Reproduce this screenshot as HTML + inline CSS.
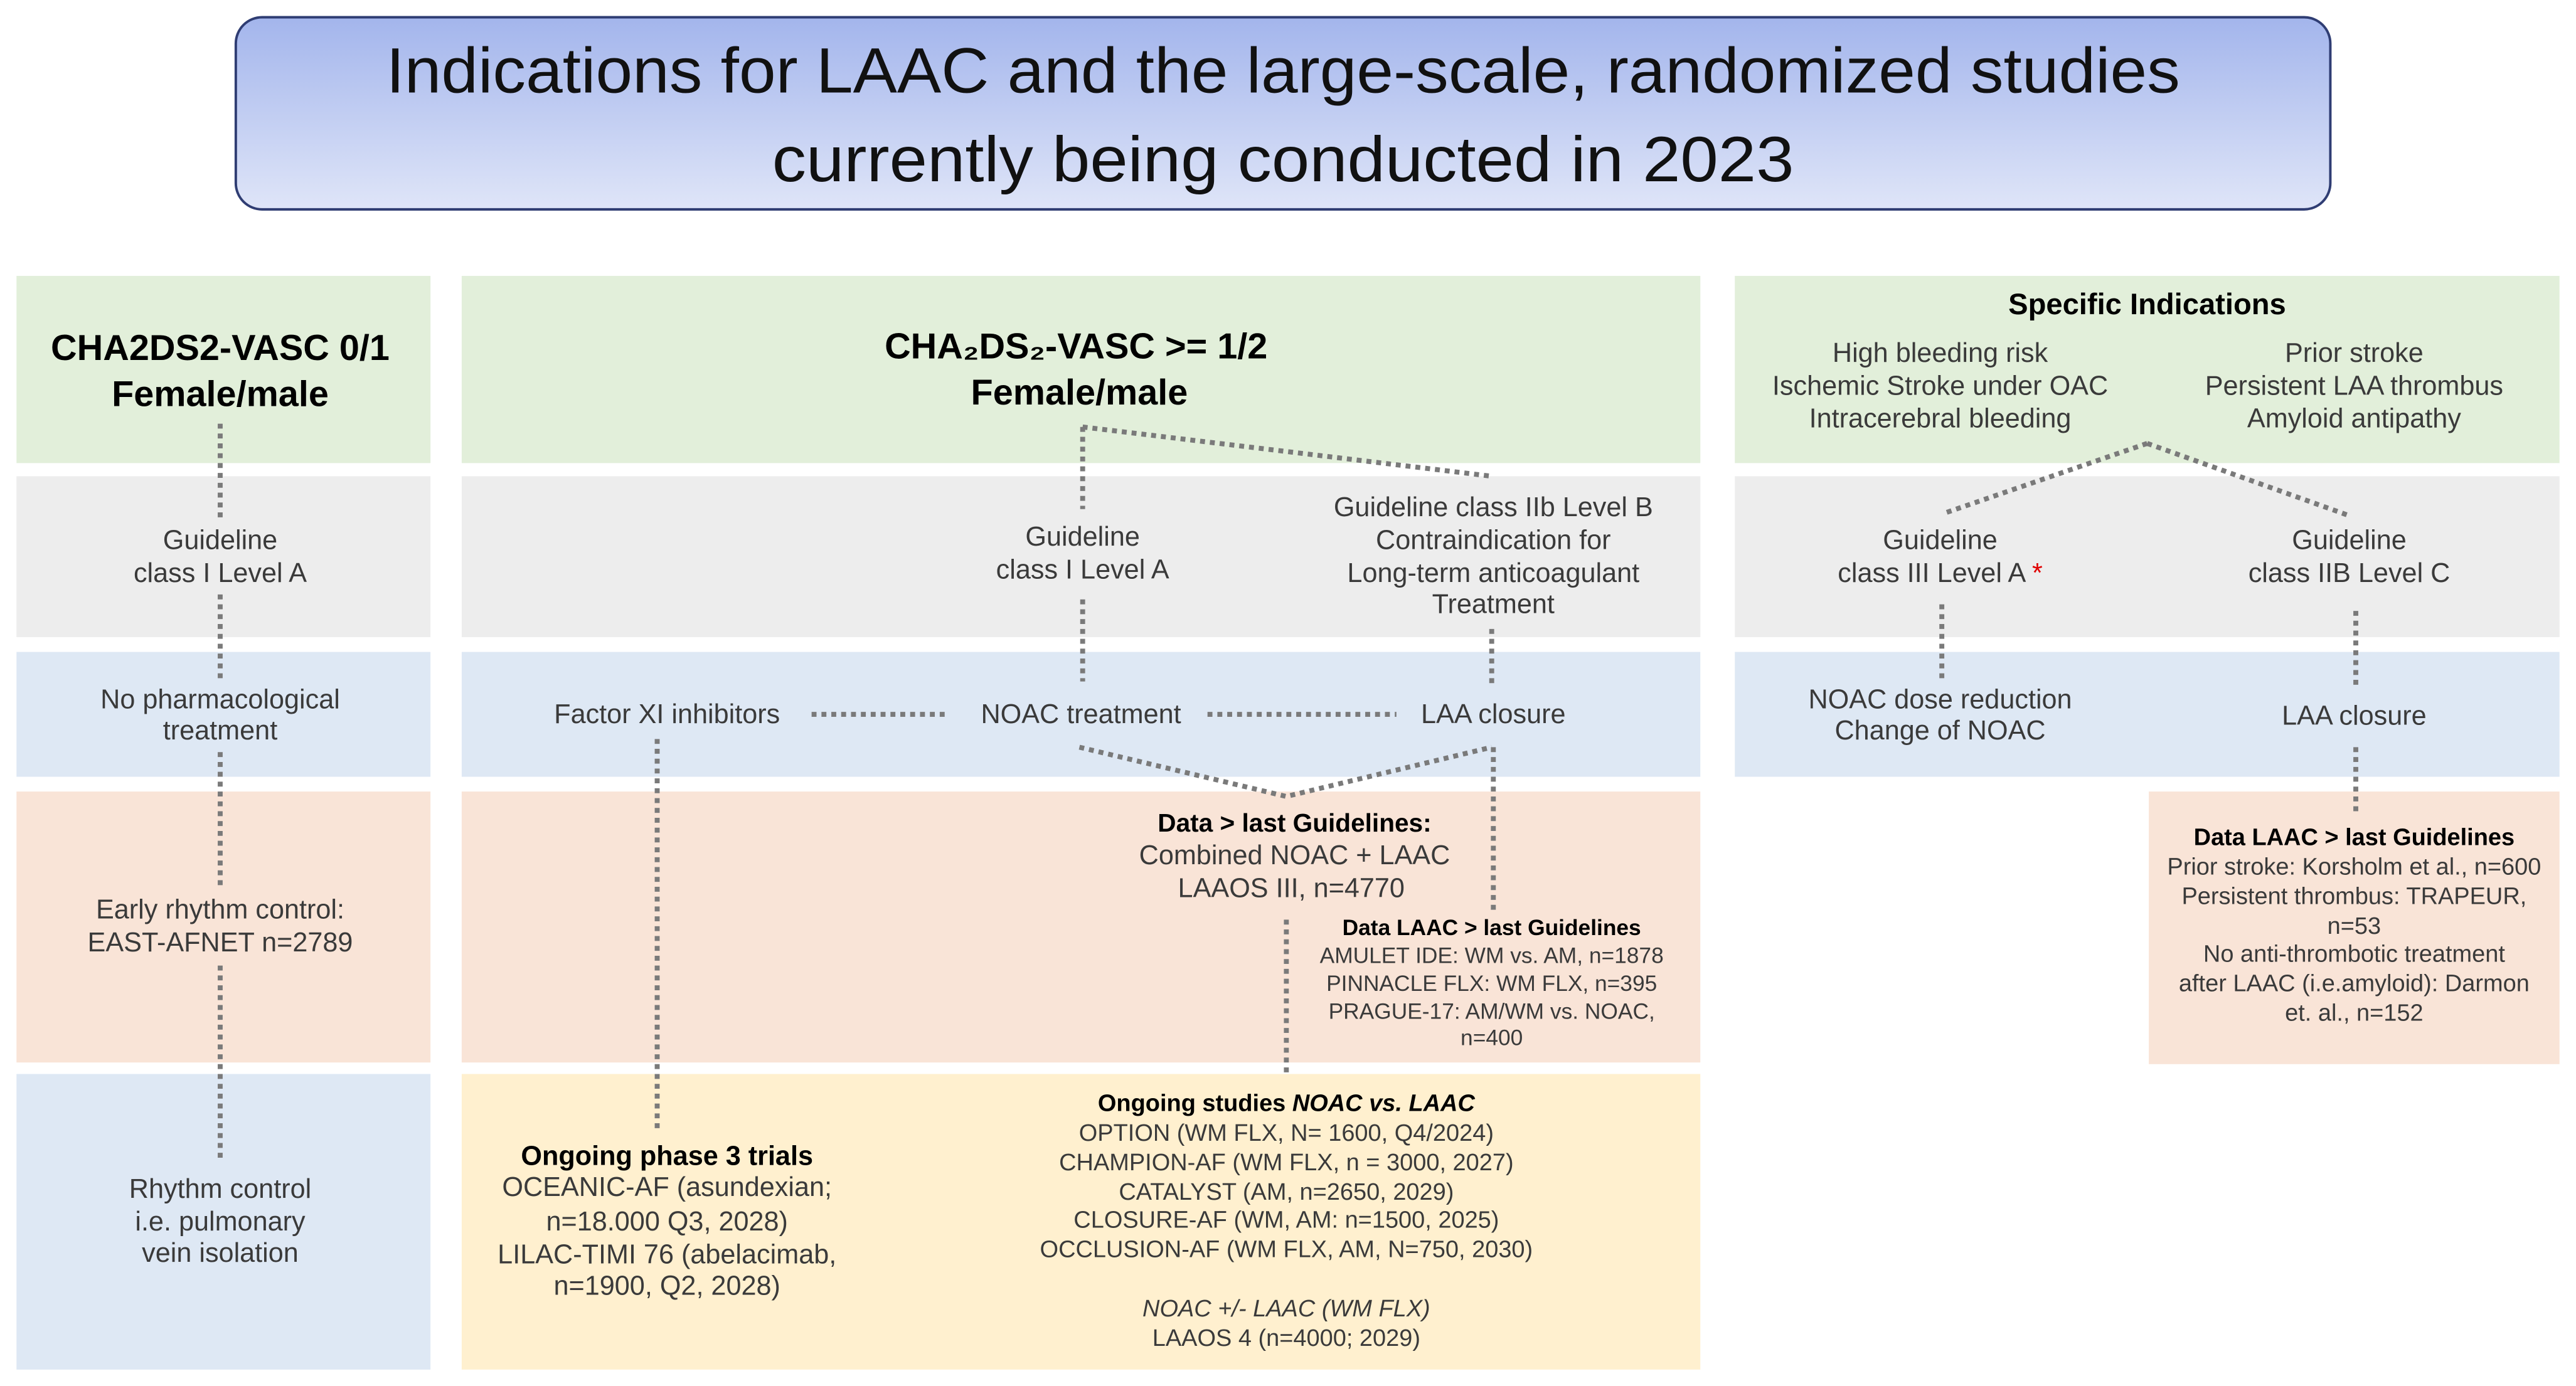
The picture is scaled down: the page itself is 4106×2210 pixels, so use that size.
<!DOCTYPE html>
<html><head><meta charset="utf-8"><style>
html,body{margin:0;padding:0;background:#fff;}
svg{display:block;}
text{font-family:"Liberation Sans",sans-serif;fill:#3a3a3a;}
.b{font-weight:bold;fill:#000;}
</style></head><body>
<svg width="4106" height="2210" viewBox="0 0 1568 844" xmlns="http://www.w3.org/2000/svg">
<defs><linearGradient id="g" x1="0" y1="0" x2="0" y2="1"><stop offset="0" stop-color="#a3b5ec"/><stop offset="1" stop-color="#dfe5f8"/></linearGradient></defs>
<rect x="143.5" y="10.5" width="1275" height="117" rx="16" fill="url(#g)" stroke="#2f3d73" stroke-width="1.5"/>
<g text-anchor="middle" dominant-baseline="central">
<text x="781" y="43" font-size="39" textLength="1092" lengthAdjust="spacingAndGlyphs" style="fill:#111">Indications for LAAC and the large-scale, randomized studies</text>
<text x="781" y="97" font-size="39" textLength="622" lengthAdjust="spacingAndGlyphs" style="fill:#111">currently being conducted in 2023</text>
</g>
<g>
<rect x="10" y="168" width="252" height="114" fill="#e2efda"/>
<rect x="281" y="168" width="754" height="114" fill="#e2efda"/>
<rect x="1056" y="168" width="502" height="114" fill="#e2efda"/>
<rect x="10" y="290" width="252" height="98" fill="#ededed"/>
<rect x="281" y="290" width="754" height="98" fill="#ededed"/>
<rect x="1056" y="290" width="502" height="98" fill="#ededed"/>
<rect x="10" y="397" width="252" height="76" fill="#dee8f4"/>
<rect x="281" y="397" width="754" height="76" fill="#dee8f4"/>
<rect x="1056" y="397" width="502" height="76" fill="#dee8f4"/>
<rect x="10" y="482" width="252" height="165" fill="#f9e4d7"/>
<rect x="281" y="482" width="754" height="165" fill="#f9e4d7"/>
<rect x="1308" y="482" width="250" height="166" fill="#f9e4d7"/>
<rect x="10" y="654" width="252" height="180" fill="#dee8f4"/>
<rect x="281" y="654" width="754" height="180" fill="#fff0cf"/>
</g>
<g stroke="#7a7a7a" stroke-width="3" stroke-dasharray="3 3" fill="none">
<path d="M134 258V315M134 362V415M134 458V540M134 588V705"/>
<path d="M659 260V310M659 260L908 290M659 365V415M908 383V418"/>
<path d="M494 435H575M735 435H850"/>
<path d="M400 450V690M657 455L783 485L908 455M909 455V555M783 560V655"/>
<path d="M1307 270L1185 312M1307 270L1430 314M1182 368V416M1434 372V420M1434 455V495"/>
</g>
<g text-anchor="middle" dominant-baseline="central" font-size="16.5">
<text class="b" x="134" y="212" font-size="22">CHA2DS2-VASC 0/1</text>
<text class="b" x="134" y="240" font-size="22">Female/male</text>
<text x="134" y="329">Guideline</text><text x="134" y="349">class I Level A</text>
<text x="134" y="426">No pharmacological</text><text x="134" y="445">treatment</text>
<text x="134" y="554">Early rhythm control:</text><text x="134" y="574">EAST-AFNET  n=2789</text>
<text x="134" y="724">Rhythm control</text><text x="134" y="744">i.e. pulmonary</text><text x="134" y="763">vein isolation</text>

<text class="b" x="655" y="211" font-size="22">CHA₂DS₂-VASC &gt;= 1/2</text>
<text class="b" x="657" y="239" font-size="22">Female/male</text>
<text x="659" y="327">Guideline</text><text x="659" y="347">class I Level A</text>
<text x="909" y="309">Guideline class IIb Level B</text>
<text x="909" y="329">Contraindication  for</text>
<text x="909" y="349">Long-term anticoagulant</text>
<text x="909" y="368">Treatment</text>
<text x="406" y="435">Factor XI inhibitors</text>
<text x="658" y="435">NOAC treatment</text>
<text x="909" y="435">LAA closure</text>
<text class="b" x="788" y="501" font-size="15.5">Data &gt; last Guidelines:</text>
<text x="788" y="521">Combined NOAC + LAAC</text>
<text x="786" y="541">LAAOS III, n=4770</text>
<g font-size="13.5">
<text class="b" x="908" y="565">Data LAAC &gt; last Guidelines</text>
<text x="908" y="582">AMULET IDE: WM vs. AM, n=1878</text>
<text x="908" y="599">PINNACLE FLX: WM FLX, n=395</text>
<text x="908" y="616">PRAGUE-17: AM/WM vs. NOAC,</text>
<text x="908" y="632">n=400</text>
</g>
<text class="b" x="406" y="704">Ongoing phase 3 trials</text>
<text x="406" y="723">OCEANIC-AF (asundexian;</text>
<text x="406" y="744">n=18.000 Q3, 2028)</text>
<text x="406" y="764">LILAC-TIMI 76 (abelacimab,</text>
<text x="406" y="783">n=1900, Q2, 2028)</text>
<g font-size="14.5">
<text class="b" x="783" y="672">Ongoing studies <tspan font-style="italic">NOAC vs. LAAC</tspan></text>
<text x="783" y="690">OPTION (WM FLX, N= 1600, Q4/2024)</text>
<text x="783" y="708">CHAMPION-AF (WM FLX, n = 3000, 2027)</text>
<text x="783" y="726">CATALYST (AM, n=2650, 2029)</text>
<text x="783" y="743">CLOSURE-AF (WM,  AM: n=1500, 2025)</text>
<text x="783" y="761">OCCLUSION-AF (WM FLX, AM, N=750, 2030)</text>
<text x="783" y="797" font-style="italic">NOAC +/- LAAC (WM FLX)</text>
<text x="783" y="815">LAAOS 4 (n=4000; 2029)</text>
</g>

<text class="b" x="1307" y="185" font-size="18">Specific Indications</text>
<text x="1181" y="215">High bleeding risk</text>
<text x="1181" y="235">Ischemic Stroke under OAC</text>
<text x="1181" y="255">Intracerebral bleeding</text>
<text x="1433" y="215">Prior stroke</text>
<text x="1433" y="235">Persistent LAA thrombus</text>
<text x="1433" y="255">Amyloid antipathy</text>
<text x="1181" y="329">Guideline</text>
<text x="1181" y="349">class III  Level A <tspan style="fill:#e00000">*</tspan></text>
<text x="1430" y="329">Guideline</text>
<text x="1430" y="349">class IIB Level C</text>
<text x="1181" y="426">NOAC dose reduction</text>
<text x="1181" y="445">Change of NOAC</text>
<text x="1433" y="436">LAA closure</text>
<g font-size="14.5">
<text class="b" x="1433" y="510">Data LAAC &gt; last Guidelines</text>
<text x="1433" y="528">Prior stroke: Korsholm et al., n=600</text>
<text x="1433" y="546">Persistent thrombus: TRAPEUR,</text>
<text x="1433" y="564">n=53</text>
<text x="1433" y="581">No anti-thrombotic treatment</text>
<text x="1433" y="599">after LAAC (i.e.amyloid):  Darmon</text>
<text x="1433" y="617">et. al., n=152</text>
</g>
</g>
</svg>
</body></html>
